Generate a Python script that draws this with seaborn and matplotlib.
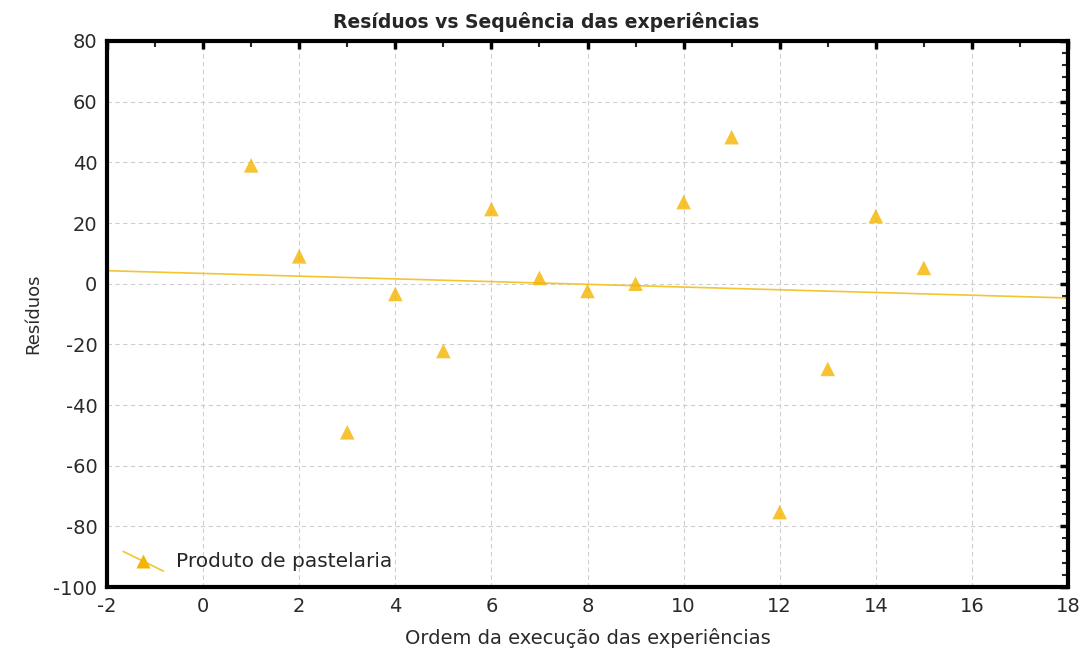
import matplotlib
matplotlib.use("Agg")
import matplotlib.pyplot as plt
from matplotlib.ticker import MultipleLocator
from matplotlib.lines import Line2D
from matplotlib.legend_handler import HandlerBase
import seaborn as sns
import pandas as pd

ordem = [1, 2, 3, 4, 5, 6, 7, 8, 9, 10, 11, 12, 13, 14, 15]
residuos = [39.0, 9.0, -49.0, -3.4, -22.2, 24.6, 1.9, -2.4, 0.0, 26.9, 48.3, -75.3, -28.1, 22.3, 5.2]
serie = "Produto de pastelaria"
titulo = "Resíduos vs Sequência das experiências"
xlabel = "Ordem da execução das experiências"
ylabel = "Resíduos"

df = pd.DataFrame({"x": ordem, "y": residuos})

sns.set_style("white")
plt.rcParams["font.family"] = ["DejaVu Sans"]
plt.rcParams["axes.unicode_minus"] = False

fig = plt.figure(figsize=(10.89, 6.57), dpi=100)
ax = fig.add_axes([0.0983, 0.1065, 0.8824, 0.8311])
ax.set_xlim(-2, 18)
ax.set_ylim(-100, 80)

pt_color = "#F5B400"
line_color = "#F2C531"

sns.regplot(data=df, x="x", y="y", ax=ax, ci=None, truncate=False,
            marker="^",
            scatter_kws=dict(s=110, color=pt_color, edgecolor="none", zorder=3),
            line_kws=dict(color=line_color, lw=1.2, zorder=2))

ax.set_xlim(-2, 18)
ax.set_ylim(-100, 80)
ax.xaxis.set_major_locator(MultipleLocator(2))
ax.xaxis.set_minor_locator(MultipleLocator(1))
ax.yaxis.set_major_locator(MultipleLocator(20))
ax.yaxis.set_minor_locator(MultipleLocator(4))

ax.grid(True, which="major", linestyle=(0, (4, 3)), color="#cfcfcf", lw=0.8)
ax.set_axisbelow(True)
for s in ax.spines.values():
    s.set_visible(True)
    s.set_linewidth(3)
    s.set_color("black")

ax.tick_params(which="major", direction="in", length=6, width=2.5, top=True, right=True,
               labelsize=14, colors="black", pad=7)
ax.tick_params(which="minor", direction="in", length=4, width=1.5, top=True, right=True)
for lab in ax.get_xticklabels() + ax.get_yticklabels():
    lab.set_color("#2a2a2a")

ax.set_title(titulo, fontsize=13.5, fontweight="bold", x=0.457, pad=9)
ax.set_xlabel(xlabel, fontsize=14, labelpad=9, color="#2a2a2a")
ax.set_ylabel(ylabel, fontsize=13, labelpad=8, color="#2a2a2a")


class DiagHandler(HandlerBase):
    def create_artists(self, legend, orig_handle, xdescent, ydescent, width, height, fontsize, trans):
        x0, y0 = -xdescent, -ydescent
        ln = Line2D([x0, x0 + width], [y0 + height * 1.1, y0 - height * 0.3],
                    color=line_color, lw=1.2, transform=trans)
        mk = Line2D([x0 + width / 2], [y0 + height * 0.4], marker="^", markersize=10,
                    markerfacecolor=pt_color, markeredgecolor="none", linestyle="none",
                    transform=trans)
        return [ln, mk]


handle = Line2D([], [], color=line_color)
ax.legend([handle], [serie], handler_map={Line2D: DiagHandler()}, loc="lower left",
          frameon=False, fontsize=14.5, handlelength=2.0, borderaxespad=0.4,
          handletextpad=0.6)

fig.savefig("out.png", dpi=100)
